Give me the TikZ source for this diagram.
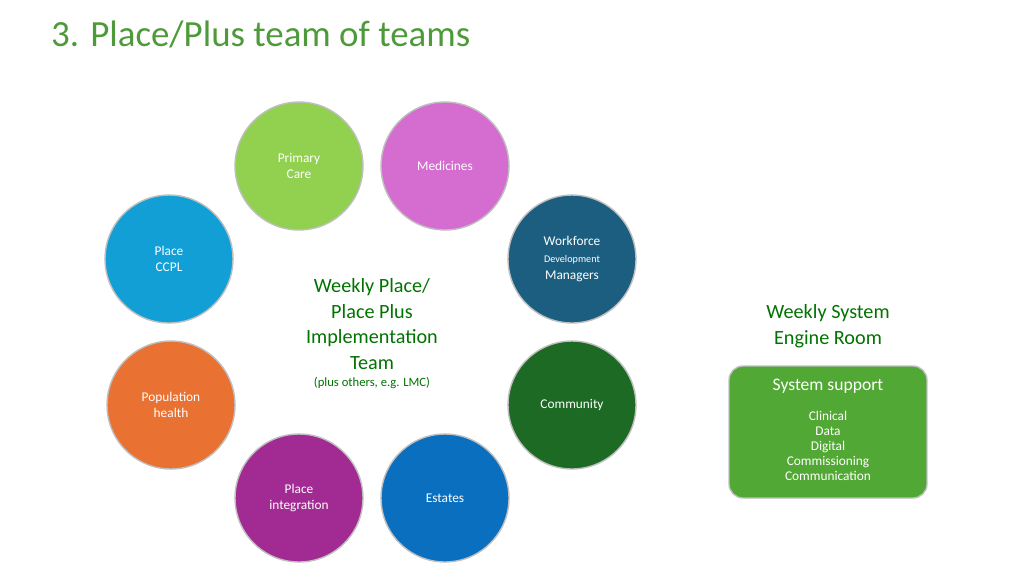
\documentclass[tikz,border=0pt]{standalone}
\usepackage{fontspec}
\setmainfont{Carlito}
\usepackage{tikz}

\begin{document}
\begin{tikzpicture}[x=0.02cm, y=-0.02cm,
team/.style={circle, draw=black!25, line width=0.8pt, minimum size=2.56cm, inner sep=0pt, text=white, align=center, font=\fontsize{7.6}{9.4}\selectfont},
label/.style={text=green!45!black, align=center}
]
\definecolor{titlegreen}{HTML}{4E9A3A}
\definecolor{cPrimary}{HTML}{92D050}
\definecolor{cMedicines}{HTML}{D56DD0}
\definecolor{cWorkforce}{HTML}{1B5E80}
\definecolor{cCommunity}{HTML}{1D6A25}
\definecolor{cEstates}{HTML}{0B6FC0}
\definecolor{cIntegration}{HTML}{A12B92}
\definecolor{cPopulation}{HTML}{E97132}
\definecolor{cCCPL}{HTML}{129FD6}
\definecolor{cSupport}{HTML}{52A834}
\useasboundingbox (0,0) rectangle (1024,576);
%Title
\node[anchor=west, text=titlegreen, font=\fontsize{21}{25}\selectfont] (title) at (45,34) {3. Place/Plus team of teams};
%Circles
\node[team, fill=cPrimary]     (primary)     at (299,166) {Primary\\Care};
\node[team, fill=cMedicines]   (medicines)   at (445,166) {Medicines};
\node[team, fill=cWorkforce]   (workforce)   at (572,259) {Workforce\\{\fontsize{5.8}{7}\selectfont Development}\\Managers};
\node[team, fill=cCommunity]   (community)   at (572,405) {Community};
\node[team, fill=cEstates]     (estates)     at (445,498) {Estates};
\node[team, fill=cIntegration] (integration) at (299,498) {Place\\integration};
\node[team, fill=cPopulation]  (population)  at (171,405) {Population\\health};
\node[team, fill=cCCPL]        (ccpl)        at (169,259) {Place\\CCPL};
%Centre
\node[label, font=\fontsize{11.5}{14.5}\selectfont] (implementation) at (372,324) {Weekly Place/\\Place Plus\\Implementation\\Team};
\node[label, font=\fontsize{7.2}{9}\selectfont] (others) at (372,383) {(plus others, e.g. LMC)};
%Engine room
\node[label, font=\fontsize{11.5}{14.5}\selectfont] (engine) at (828,326) {Weekly System\\Engine Room};
\node[draw=black!25, line width=0.8pt, rounded corners=8pt, fill=cSupport, minimum width=3.96cm, minimum height=2.64cm] (support) at (828,432) {};
\node[text=white, font=\fontsize{10}{12}\selectfont] (supporttitle) at (828,386) {System support};
\node[text=white, align=center, font=\fontsize{7.6}{8.6}\selectfont, anchor=north] (supportlist) at (828,405) {Clinical\\Data\\Digital\\Commissioning\\Communication};
\end{tikzpicture}
\end{document}
